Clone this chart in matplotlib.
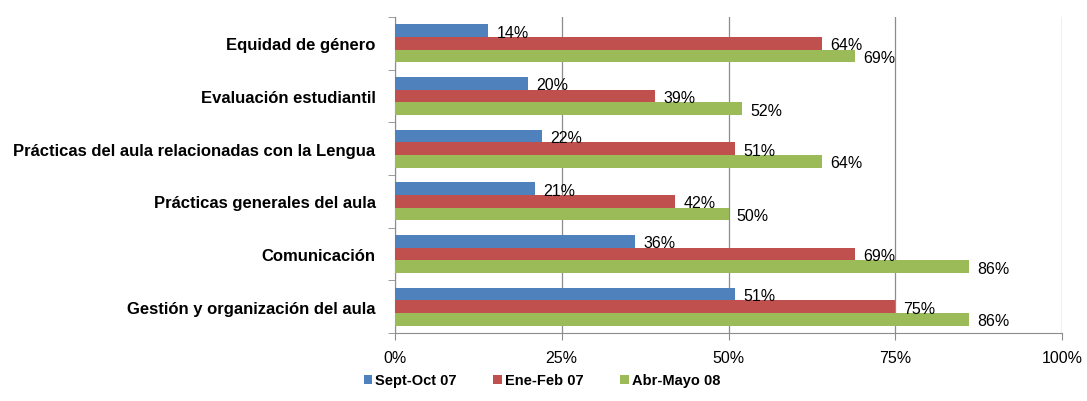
import matplotlib.pyplot as plt
import numpy as np

plt.rcParams['font.family'] = ['Liberation Sans', 'DejaVu Sans']

categories = ["Gestión y organización del aula", "Comunicación",
              "Prácticas generales del aula",
              "Prácticas del aula relacionadas con la Lengua",
              "Evaluación estudiantil", "Equidad de género"]
series_names = ["Sept-Oct 07", "Ene-Feb 07", "Abr-Mayo 08"]
sept_oct = [51, 36, 21, 22, 20, 14]
ene_feb = [75, 69, 42, 51, 39, 64]
abr_mayo = [86, 86, 50, 64, 52, 69]
colors = ["#4F81BD", "#C0504D", "#9BBB59"]

fig = plt.figure(figsize=(10.87, 4.02), dpi=100)
ax = fig.add_axes([395 / 1087, 1 - 334 / 402, 667 / 1087, 316 / 402])

y = np.arange(len(categories))
h = 0.24
values = [sept_oct, ene_feb, abr_mayo]
for i, (vals, name, c) in enumerate(zip(values, series_names, colors)):
    pos = y + h - i * h
    ax.barh(pos, vals, height=h, color=c, label=name, zorder=3)
    for p, v in zip(pos, vals):
        ax.annotate(f"{v}%", (v, p), xytext=(6, -1), textcoords="offset points",
                    va="center", ha="left", fontsize=11.5, zorder=4)

ax.set_xlim(0, 100)
ax.set_ylim(-0.5, len(categories) - 0.5)
ax.set_xticks([0, 25, 50, 75, 100])
ax.set_xticklabels(["0%", "25%", "50%", "75%", "100%"], fontsize=11.5)
ax.xaxis.grid(True, color="#8c8c8c", linewidth=0.9, zorder=0)
ax.set_yticks(y)
ax.set_yticklabels(categories, fontsize=12, fontweight="bold")
ax.set_yticks(np.arange(-0.5, len(categories)), minor=True)
ax.tick_params(axis="y", which="major", length=0, pad=14)
ax.tick_params(axis="y", which="minor", length=5, color="#8c8c8c")
ax.tick_params(axis="x", length=5, color="#8c8c8c", pad=7)
for s in ["top", "right"]:
    ax.spines[s].set_visible(False)
for s in ["left", "bottom"]:
    ax.spines[s].set_color("#8c8c8c")

ax.legend(loc="center", bbox_to_anchor=(0.22, -0.15), ncol=3,
          frameon=False, prop={"size": 10.5, "weight": "bold"},
          handlelength=0.6, handleheight=0.6,
          handletextpad=0.2, columnspacing=2.5)

fig.savefig("out.png", dpi=100)
